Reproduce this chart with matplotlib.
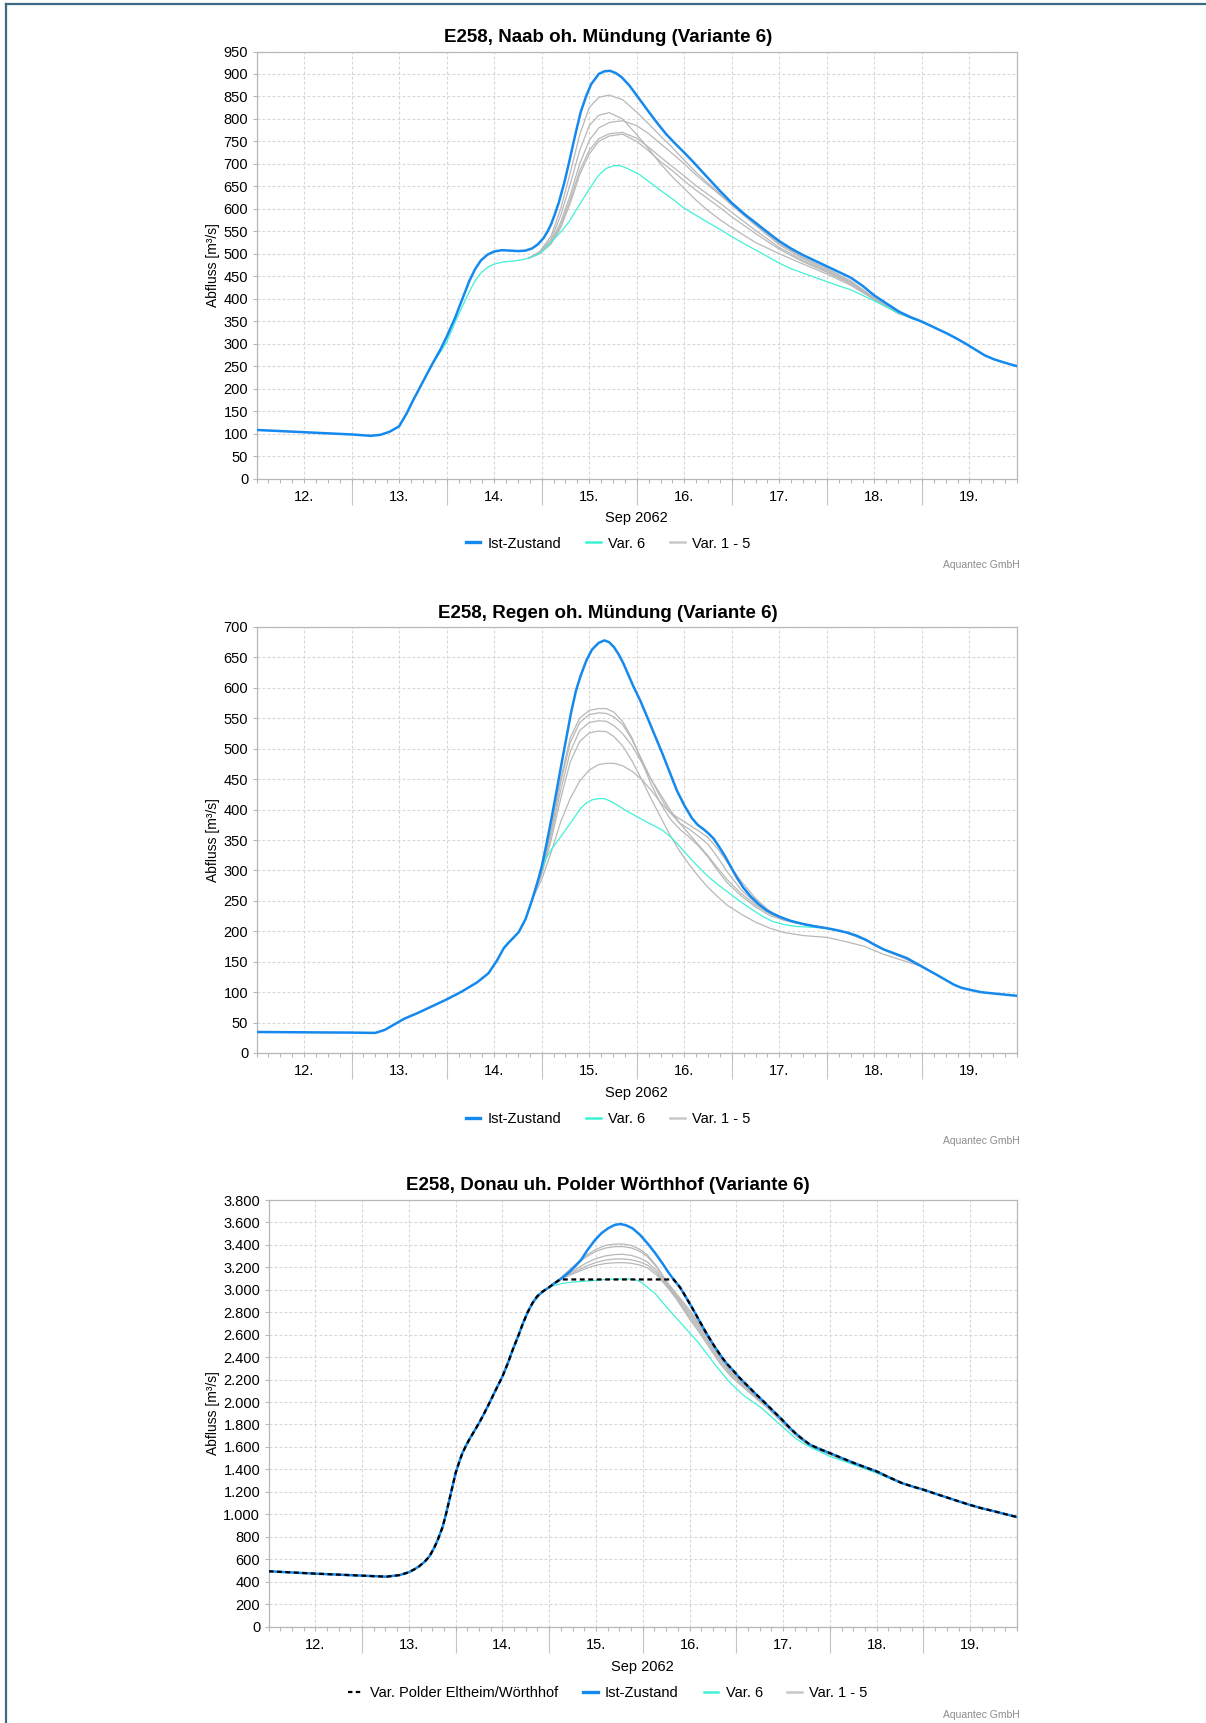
import matplotlib
matplotlib.use('Agg')
import matplotlib.pyplot as plt
from matplotlib.lines import Line2D
from matplotlib.ticker import FixedLocator, FuncFormatter
import numpy as np

plt.rcParams['font.family'] = ['Liberation Sans', 'DejaVu Sans']

# ---------------- data (x = days since 12 Sep 2062 00:00) ----------------
day_labels = ['12.', '13.', '14.', '15.', '16.', '17.', '18.', '19.']
x_axis_title = 'Sep 2062'

# Chart 1: Naab oh. Mündung
t1_ist = [0, 0.5, 1.0, 1.2, 1.3, 1.4, 1.5, 1.58, 1.65, 1.75, 1.85, 1.93, 2.0, 2.09, 2.17, 2.24, 2.3,
          2.36, 2.43, 2.5, 2.58, 2.67, 2.75, 2.83, 2.9, 2.96, 3.02, 3.06, 3.1, 3.14, 3.18, 3.24, 3.29, 3.35,
          3.41, 3.47, 3.52, 3.6, 3.66, 3.72, 3.78, 3.84, 3.92, 3.99, 4.07, 4.15, 4.23, 4.31, 4.4,
          4.5, 4.6, 4.73, 4.87, 5.0, 5.14, 5.28, 5.4, 5.5, 5.62, 5.75, 5.88, 6.0, 6.12, 6.25, 6.38,
          6.5, 6.63, 6.76, 6.88, 7.0, 7.13, 7.26, 7.36, 7.46, 7.56, 7.66, 7.76, 7.85, 7.93, 8.0]
q1_ist = [108, 103, 98, 95, 97, 104, 116, 145, 175, 215, 255, 285, 315, 358, 402, 440, 466,
          485, 498, 505, 508, 507, 506, 507, 512, 521, 535, 549, 566, 589, 614, 660, 705, 762,
          815, 852, 877, 900, 906, 907, 902, 893, 875, 855, 832, 809, 787, 766, 746,
          725, 703, 673, 641, 613, 587, 564, 544, 528, 512, 497, 484, 472, 460, 447, 428,
          407, 389, 371, 359, 349, 336, 323, 312, 300, 287, 274, 265, 259, 254, 250]
t1_v6 = [1.85, 1.93, 2.0, 2.09, 2.17, 2.24, 2.3, 2.36, 2.43, 2.5, 2.6, 2.71, 2.8, 2.86, 2.92, 2.98,
         3.06, 3.14, 3.22, 3.29, 3.37, 3.45, 3.52, 3.6, 3.68, 3.76, 3.83, 3.9, 4.03, 4.15, 4.27,
         4.4, 4.5, 4.62, 4.73, 4.87, 5.0, 5.14, 5.28, 5.4, 5.5, 5.62, 5.75, 5.88, 6.0, 6.12, 6.25,
         6.38, 6.5, 6.63, 6.76, 6.88, 7.0, 7.13, 7.26]
q1_v6 = [255, 280, 303, 348, 385, 416, 440, 457, 470, 477, 482, 484, 487, 490, 495, 501,
         517, 535, 553, 572, 600, 627, 650, 675, 690, 696, 696, 690, 676, 657, 638,
         618, 601, 586, 572, 555, 538, 521, 505, 491, 479, 467, 457, 447, 438, 429, 420,
         407, 395, 381, 368, 357, 348, 336, 323]
t1_var = [2.86, 2.98, 3.1, 3.2, 3.3, 3.4, 3.5, 3.6, 3.71, 3.85, 4.0, 4.12, 4.25, 4.38, 4.5, 4.62,
          4.75, 4.88, 5.0, 5.25, 5.5, 5.75, 6.0, 6.25, 6.5, 6.75, 7.0]
q1_var1 = [490, 505, 540, 600, 680, 765, 825, 848, 853, 843, 815, 790, 762, 735, 708, 682,
           657, 633, 609, 565, 523, 492, 467, 440, 402, 370, 349]
q1_var2 = [490, 503, 533, 585, 655, 730, 785, 808, 814, 800, 765, 735, 700, 670, 645, 620,
           596, 575, 558, 525, 500, 477, 455, 430, 398, 367, 349]
q1_var3 = [490, 502, 528, 570, 630, 700, 752, 780, 792, 796, 785, 768, 745, 722, 700, 676,
           653, 630, 608, 563, 520, 489, 464, 437, 400, 369, 349]
q1_var4 = [490, 501, 525, 563, 620, 685, 730, 756, 767, 770, 757, 738, 715, 693, 673, 652,
           632, 612, 592, 552, 514, 485, 461, 435, 399, 368, 349]
q1_var5 = [490, 500, 522, 558, 612, 676, 722, 750, 762, 766, 750, 730, 705, 684, 662, 642,
           622, 602, 582, 545, 510, 482, 459, 433, 398, 368, 349]

# Chart 2: Regen oh. Mündung
t2_ist = [0, 0.5, 1.0, 1.25, 1.35, 1.45, 1.55, 1.7, 1.85, 2.0, 2.16, 2.32, 2.44, 2.53, 2.6, 2.65,
          2.7, 2.76, 2.83, 2.9, 2.96, 3.0, 3.05, 3.1, 3.15, 3.2, 3.25, 3.31, 3.36, 3.41, 3.47,
          3.53, 3.6, 3.66, 3.71, 3.76, 3.81, 3.86, 3.91, 3.96, 4.04, 4.11, 4.19, 4.27, 4.35, 4.42,
          4.5, 4.58, 4.64, 4.7, 4.76, 4.81, 4.87, 4.93, 5.0, 5.05, 5.12, 5.2, 5.28, 5.36, 5.43,
          5.5, 5.62, 5.75, 5.88, 6.0, 6.1, 6.21, 6.31, 6.41, 6.5, 6.6, 6.72, 6.84, 6.92, 7.0,
          7.08, 7.15, 7.25, 7.34, 7.42, 7.5, 7.62, 7.77, 7.9, 8.0]
q2_ist = [34.5, 34, 33.5, 33, 38, 47, 56, 66, 77, 88, 101, 116, 131, 152, 172, 181,
          189, 199, 220, 252, 283, 306, 343, 383, 425, 468, 510, 560, 595, 620, 645,
          663, 674, 678, 675, 667, 655, 640, 622, 604, 578, 552, 522, 492, 460, 432,
          407, 386, 375, 368, 360, 352, 338, 323, 303, 289, 272, 257, 245, 235, 229,
          224, 217, 212, 208, 205, 202, 198, 193, 186, 178, 170, 163, 156, 149, 142,
          135, 129, 120, 112, 107, 104, 100, 97.5, 95.5, 94]
t2_v6 = [2.83, 2.87, 2.92, 2.98, 3.04, 3.1, 3.18, 3.25, 3.33, 3.41, 3.47, 3.53, 3.6, 3.66, 3.72,
         3.8, 3.9, 4.03, 4.15, 4.27, 4.35, 4.42, 4.5, 4.58, 4.66, 4.73, 4.85, 4.97, 5.08, 5.2,
         5.32, 5.43, 5.55, 5.67, 5.8, 5.9, 6.0]
q2_v6 = [220, 236, 262, 293, 318, 334, 351, 366, 384, 402, 411, 416, 418, 418, 414,
         407, 397, 386, 376, 366, 356, 345, 331, 317, 304, 293, 277, 263, 250, 237,
         225, 216, 211, 208, 207, 206, 205]
t2_var = [2.9, 3.0, 3.1, 3.2, 3.3, 3.4, 3.5, 3.6, 3.68, 3.76, 3.85, 3.95, 4.05, 4.15, 4.25, 4.35,
          4.45, 4.55, 4.65, 4.75, 4.85, 4.95, 5.1, 5.25, 5.4, 5.55, 5.75, 6.0, 6.2, 6.4, 6.6,
          6.8, 7.0]
q2_var1 = [252, 300, 370, 450, 518, 550, 563, 566, 566, 560, 545, 518, 480, 442, 410, 385,
           368, 355, 340, 322, 300, 280, 258, 240, 226, 218, 211, 205, 198, 186, 170, 157, 142]
q2_var2 = [252, 298, 365, 445, 510, 543, 556, 559, 558, 552, 540, 515, 483, 450, 420, 395,
           378, 368, 356, 343, 322, 298, 268, 246, 230, 220, 212, 205, 198, 186, 170, 157, 142]
q2_var3 = [252, 296, 358, 432, 495, 530, 543, 546, 545, 538, 525, 505, 478, 450, 425, 400,
           378, 360, 342, 324, 304, 285, 262, 243, 229, 219, 212, 205, 198, 186, 170, 157, 142]
q2_var4 = [252, 293, 350, 418, 478, 512, 526, 529, 528, 520, 505, 480, 450, 418, 388, 358,
           332, 310, 290, 272, 257, 243, 228, 215, 205, 198, 193, 190, 183, 175, 162, 152, 142]
q2_var5 = [252, 285, 330, 380, 418, 447, 465, 474, 476, 476, 472, 463, 450, 432, 412, 395,
           385, 375, 365, 354, 336, 314, 282, 254, 233, 221, 212, 205, 198, 186, 170, 157, 142]

# Chart 3: Donau uh. Polder Wörthhof
t3_ist = [0, 0.5, 1.0, 1.26, 1.4, 1.5, 1.56, 1.61, 1.67, 1.72, 1.77, 1.81, 1.86, 1.9, 1.95, 2.0,
          2.04, 2.07, 2.11, 2.15, 2.2, 2.25, 2.3, 2.36, 2.43, 2.5, 2.56, 2.61, 2.67, 2.72, 2.77,
          2.82, 2.87, 2.93, 3.0, 3.05, 3.11, 3.16, 3.22, 3.28, 3.34, 3.41, 3.49, 3.56, 3.63, 3.7,
          3.76, 3.82, 3.89, 3.97, 4.05, 4.13, 4.21, 4.27, 4.33, 4.4, 4.44, 4.52, 4.6, 4.68, 4.76,
          4.84, 4.9, 4.96, 5.03, 5.11, 5.21, 5.31, 5.4, 5.49, 5.56, 5.63, 5.71, 5.79, 5.9, 6.0,
          6.13, 6.26, 6.38, 6.5, 6.63, 6.77, 6.88, 7.0, 7.12, 7.25, 7.37, 7.49, 7.62, 7.76, 7.88, 8.0]
q3_ist = [492, 471, 453, 444, 458, 483, 510, 536, 578, 625, 700, 774, 885, 1011, 1190, 1367,
          1470, 1540, 1610, 1672, 1742, 1812, 1890, 1990, 2110, 2227, 2350, 2465, 2590, 2702, 2800,
          2880, 2940, 2984, 3023, 3055, 3088, 3120, 3162, 3212, 3266, 3355, 3444, 3505, 3548, 3578,
          3586, 3575, 3548, 3490, 3414, 3330, 3236, 3160, 3092, 3020, 2965, 2851, 2732, 2613, 2505,
          2405, 2340, 2287, 2220, 2153, 2070, 1990, 1915, 1842, 1780, 1723, 1668, 1619, 1578, 1545,
          1500, 1456, 1418, 1382, 1330, 1278, 1248, 1219, 1185, 1150, 1117, 1085, 1054, 1026, 1000, 975]
t3_polder = [0, 0.5, 1.0, 1.26, 1.4, 1.5, 1.56, 1.61, 1.67, 1.72, 1.77, 1.81, 1.86, 1.9, 1.95, 2.0,
             2.04, 2.07, 2.11, 2.15, 2.2, 2.25, 2.3, 2.36, 2.43, 2.5, 2.56, 2.61, 2.67, 2.72, 2.77,
             2.82, 2.87, 2.93, 3.0, 3.05, 3.11, 3.14, 4.33, 4.4, 4.44, 4.52, 4.6, 4.68, 4.76,
             4.84, 4.9, 4.96, 5.03, 5.11, 5.21, 5.31, 5.4, 5.49, 5.56, 5.63, 5.71, 5.79, 5.9, 6.0,
             6.13, 6.26, 6.38, 6.5, 6.63, 6.77, 6.88, 7.0, 7.12, 7.25, 7.37, 7.49, 7.62, 7.76, 7.88, 8.0]
q3_polder = [492, 471, 453, 444, 458, 483, 510, 536, 578, 625, 700, 774, 885, 1011, 1190, 1367,
             1470, 1540, 1610, 1672, 1742, 1812, 1890, 1990, 2110, 2227, 2350, 2465, 2590, 2702, 2800,
             2880, 2940, 2984, 3023, 3055, 3088, 3092, 3092, 3020, 2965, 2851, 2732, 2613, 2505,
             2405, 2340, 2287, 2220, 2153, 2070, 1990, 1915, 1842, 1780, 1723, 1668, 1619, 1578, 1545,
             1500, 1456, 1418, 1382, 1330, 1278, 1248, 1219, 1185, 1150, 1117, 1085, 1054, 1026, 1000, 975]
t3_v6 = [2.77, 2.82, 2.86, 2.9, 2.96, 3.02, 3.1, 3.18, 3.3, 3.42, 3.54, 3.65, 3.77, 3.89, 3.95,
         4.0, 4.06, 4.13, 4.2, 4.28, 4.36, 4.44, 4.52, 4.6, 4.68, 4.76, 4.84, 4.92, 5.0, 5.07,
         5.17, 5.27, 5.37, 5.47, 5.55, 5.63, 5.71, 5.79, 5.9, 6.0, 6.13, 6.26, 6.38, 6.5, 6.63, 6.77]
q3_v6 = [2800, 2870, 2915, 2955, 3000, 3030, 3050, 3062, 3072, 3079, 3088, 3094, 3096, 3094, 3082,
         3058, 3015, 2969, 2900, 2821, 2747, 2673, 2598, 2524, 2435, 2346, 2265, 2183, 2120, 2064,
         2005, 1946, 1872, 1797, 1738, 1679, 1635, 1598, 1555, 1515, 1478, 1441, 1404, 1367, 1322, 1278]
t3_var = [3.1, 3.2, 3.3, 3.4, 3.5, 3.6, 3.7, 3.79, 3.88, 3.97, 4.05, 4.15, 4.25, 4.35, 4.5, 4.6,
          4.7, 4.82, 4.95, 5.08, 5.2, 5.35, 5.5, 5.65, 5.8, 6.0, 6.25, 6.5, 6.75, 7.0]
q3_var1 = [3088, 3165, 3240, 3310, 3360, 3395, 3407, 3408, 3395, 3360, 3310, 3210, 3080, 2975,
           2820, 2700, 2575, 2420, 2280, 2170, 2070, 1960, 1830, 1708, 1612, 1543, 1455, 1381, 1284, 1219]
q3_var2 = [3088, 3160, 3230, 3295, 3342, 3372, 3384, 3385, 3373, 3342, 3296, 3200, 3070, 2965,
           2800, 2685, 2560, 2405, 2265, 2160, 2062, 1954, 1825, 1704, 1609, 1541, 1453, 1380, 1283, 1219]
q3_var3 = [3088, 3140, 3190, 3240, 3278, 3302, 3314, 3316, 3306, 3282, 3248, 3170, 3055, 2950,
           2780, 2665, 2540, 2390, 2250, 2150, 2055, 1948, 1820, 1700, 1606, 1538, 1450, 1378, 1282, 1219]
q3_var4 = [3088, 3130, 3172, 3212, 3243, 3264, 3274, 3275, 3267, 3248, 3220, 3150, 3045, 2940,
           2760, 2645, 2520, 2370, 2235, 2140, 2047, 1942, 1814, 1696, 1603, 1535, 1448, 1376, 1281, 1219]
q3_var5 = [3088, 3122, 3158, 3192, 3218, 3234, 3241, 3242, 3236, 3220, 3196, 3130, 3035, 2930,
           2740, 2625, 2500, 2350, 2220, 2128, 2040, 1935, 1808, 1692, 1600, 1532, 1446, 1374, 1280, 1219]

titles = ['E258, Naab oh. Mündung (Variante 6)',
          'E258, Regen oh. Mündung (Variante 6)',
          'E258, Donau uh. Polder Wörthhof (Variante 6)']
y_label = 'Abfluss [m³/s]'
lbl_ist, lbl_v6, lbl_var, lbl_polder = 'Ist-Zustand', 'Var. 6', 'Var. 1 - 5', 'Var. Polder Eltheim/Wörthhof'
credit = 'Aquantec GmbH'

# ---------------- style ----------------
C_IST = '#1589ee'
C_V6 = '#3ff2d6'
C_VAR = '#b8b8b8'
C_GRID = '#d6d6d6'
C_AX = '#b8b8b8'
FS = 10.5

W, H = 1206, 1723
fig = plt.figure(figsize=(W / 100, H / 100), dpi=100)


def fx(px):
    return px / W


def fy(py):
    return 1 - py / H


def de_fmt(v, pos):
    return f'{int(round(v)):,}'.replace(',', '.')


def make_chart(box, ymax, ystep, title, title_y, xlab_y, leg_y, credit_y, series, legend_items):
    left, right, top, bottom = box
    ax = fig.add_axes([fx(left), fy(bottom), fx(right - left), (bottom - top) / H])
    for t, q, kw in series:
        ax.plot(t, q, solid_joinstyle='round', dash_joinstyle='round', **kw)
    ax.set_xlim(0, 8)
    ax.set_ylim(0, ymax)
    major = np.arange(0, 8.01, 0.5)
    ax.set_xticks(major)
    ax.set_xticklabels(['' if i % 2 == 0 else day_labels[i // 2] for i in range(len(major))])
    ax.xaxis.set_minor_locator(FixedLocator(np.arange(0, 8.001, 0.125)))
    ax.tick_params(axis='x', which='both', length=3, width=0.8, color=C_AX, pad=5,
                   labelsize=FS, direction='out')
    ax.set_yticks(np.arange(0, ymax + 1, ystep))
    ax.yaxis.set_major_formatter(FuncFormatter(de_fmt))
    ax.tick_params(axis='y', length=3, width=0.8, color=C_AX, pad=3, labelsize=FS)
    ax.grid(True, which='major', color=C_GRID, lw=0.8, ls=(0, (2.5, 2)))
    ax.set_axisbelow(True)
    for s in ax.spines.values():
        s.set_color(C_AX)
        s.set_linewidth(0.9)
    sec = ax.secondary_xaxis('bottom')
    sec.set_xticks(np.arange(1, 8))
    sec.set_xticklabels([])
    sec.tick_params(length=19, width=0.8, color='#c4c4c4')
    sec.spines['bottom'].set_visible(False)

    fig.text(fx(608), fy(title_y), title, ha='center', va='center', fontsize=13.5, fontweight='bold')
    fig.text(fx((left + right) / 2), fy(xlab_y), x_axis_title, ha='center', va='center', fontsize=FS)
    fig.text(fx(213), fy((top + bottom) / 2), y_label, rotation=90,
             ha='center', va='center', fontsize=10)
    fig.text(fx(1020), fy(credit_y), credit, ha='right', va='center', fontsize=7.5, color='#8c8c8c')
    handles = [Line2D([], [], **kw) for kw, _ in legend_items]
    labels = [lab for _, lab in legend_items]
    fig.legend(handles, labels, loc='center', bbox_to_anchor=(fx(608), fy(leg_y)),
               ncol=len(handles), frameon=False, fontsize=FS, handlelength=1.0,
               handletextpad=0.5, columnspacing=1.7)
    return ax


def var_series(t, qs):
    return [(t, q, dict(color=C_VAR, lw=0.9, zorder=2)) for q in qs]


leg3 = [(dict(color=C_IST, lw=2.4), lbl_ist), (dict(color=C_V6, lw=1.8), lbl_v6),
        (dict(color='#c8c8c8', lw=1.8), lbl_var)]

s1 = var_series(t1_var, [q1_var1, q1_var2, q1_var3, q1_var4, q1_var5]) + [
    (t1_v6, q1_v6, dict(color=C_V6, lw=0.9, zorder=3)),
    (t1_ist, q1_ist, dict(color=C_IST, lw=1.8, zorder=4))]
make_chart((256.5, 1017, 51.5, 478.5), 950, 50, titles[0], 37, 518, 543.5, 565.5, s1, leg3)

s2 = var_series(t2_var, [q2_var1, q2_var2, q2_var3, q2_var4, q2_var5]) + [
    (t2_v6, q2_v6, dict(color=C_V6, lw=0.9, zorder=3)),
    (t2_ist, q2_ist, dict(color=C_IST, lw=1.8, zorder=4))]
make_chart((256.5, 1017, 627, 1053), 700, 50, titles[1], 613.5, 1093.5, 1119, 1141, s2, leg3)

s3 = var_series(t3_var, [q3_var1, q3_var2, q3_var3, q3_var4, q3_var5]) + [
    (t3_v6, q3_v6, dict(color=C_V6, lw=0.9, zorder=3)),
    (t3_ist, q3_ist, dict(color=C_IST, lw=1.8, zorder=4)),
    (t3_polder, q3_polder, dict(color='black', lw=1.6, ls=(0, (2.2, 1.6)), zorder=5))]
leg4 = [(dict(color='black', lw=1.6, ls=(0, (2, 1.5))), lbl_polder)] + leg3
make_chart((268.5, 1017, 1200, 1626.5), 3800, 200, titles[2], 1185.5, 1667, 1693, 1715, s3, leg4)

# outer frame (left and top edges)
fig.add_artist(Line2D([fx(6), fx(6)], [0, fy(4)], color='#3e6a86', lw=1.6, transform=fig.transFigure))
fig.add_artist(Line2D([fx(6), 1], [fy(4), fy(4)], color='#3e6a86', lw=1.6, transform=fig.transFigure))

fig.savefig('out.png', dpi=100, facecolor='white')
